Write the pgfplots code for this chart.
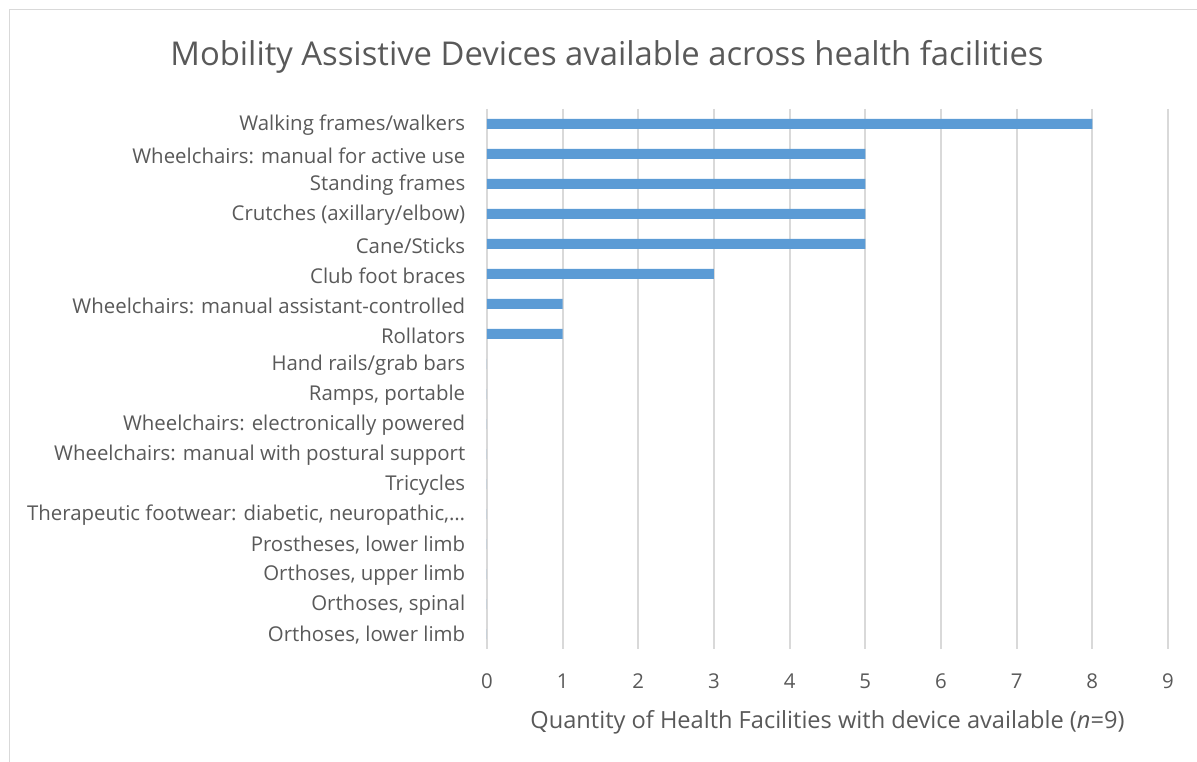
\documentclass[border=0pt]{standalone}
\usepackage{fontspec}
\setmainfont{Open Sans}
\usepackage{pgfplots}
\pgfplotsset{compat=1.18}
\definecolor{barblue}{HTML}{5B9BD5}
\definecolor{gridgray}{HTML}{D9D9D9}
\definecolor{txtgray}{HTML}{595959}
\begin{document}
\begin{tikzpicture}[x=1bp,y=1bp]
\useasboundingbox (-487,-113) rectangle (710,649);
\draw[gridgray,line width=1.5bp] (-477.5,-113) -- (-477.5,639.5) -- (710,639.5);
\begin{axis}[
  at={(0,0)}, anchor=south west,
  scale only axis, width=681bp, height=540bp,
  xbar, bar width=10bp,
  xmin=0, xmax=9, xtick={0,...,9},
  ymin=-0.5, ymax=17.5, y dir=reverse,
  ytick={0,...,17},
  yticklabels={Walking frames/walkers, Wheelchairs: manual for active use, Standing frames, Crutches (axillary/elbow), Cane/Sticks, Club foot braces, Wheelchairs: manual assistant-controlled, Rollators, Hand rails/grab bars, {Ramps, portable}, Wheelchairs: electronically powered, Wheelchairs: manual with postural support, Tricycles, {Therapeutic footwear: diabetic, neuropathic,…}, {Prostheses, lower limb}, {Orthoses, upper limb}, {Orthoses, spinal}, {Orthoses, lower limb}},
  axis line style={draw=none},
  major tick style={draw=none},
  xmajorgrids, grid style={gridgray, line width=1.7bp},
  /pgf/number format/assume math mode=true,
  ticklabel style={font=\fontsize{20.4bp}{24bp}\selectfont, text=txtgray},
  yticklabel style={xshift=-14bp, yshift=-1.5bp},
  xticklabel style={yshift=-21bp},
  xlabel={Quantity of Health Facilities with device available (\textit{n}=9)},
  xlabel style={font=\fontsize{23.6bp}{28bp}\selectfont, text=txtgray, yshift=-15bp},
]
\addplot[fill=barblue, draw=none] coordinates {
(8,0) (5,1) (5,2) (5,3) (5,4) (3,5) (1,6) (1,7) (0,8) (0,9) (0,10) (0,11) (0,12) (0,13) (0,14) (0,15) (0,16) (0,17)};
\end{axis}
\node[anchor=base, text=txtgray, font=\fontsize{32.8bp}{38bp}\selectfont] at (120,583.7) {Mobility Assistive Devices available across health facilities};
\end{tikzpicture}
\end{document}
